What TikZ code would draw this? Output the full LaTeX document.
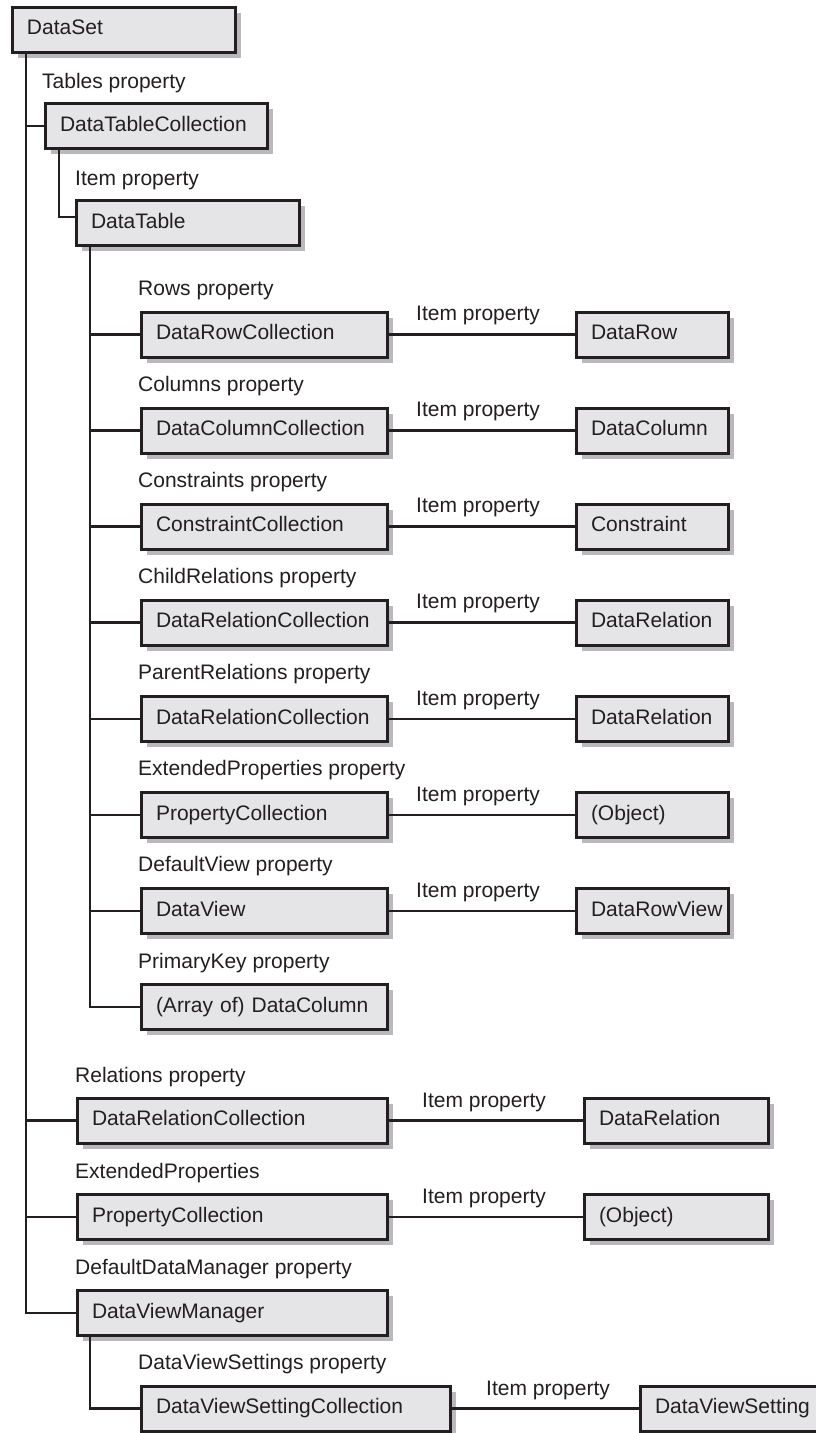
\documentclass[tikz,border=0pt]{standalone}
\usepackage{fontspec}
\setmainfont{Liberation Sans}
\usetikzlibrary{shadows}
\definecolor{ink}{HTML}{231F20}
\definecolor{boxfill}{HTML}{E5E5E7}
\definecolor{shade}{HTML}{B9B9BD}
\begin{document}
\begin{tikzpicture}[x=1pt,y=-1pt,
  box/.style={draw=ink, line width=3pt, fill=boxfill,
    general shadow={fill=shade, draw=none, shadow xshift=5.5pt, shadow yshift=-5.5pt},
    anchor=west, inner xsep=15pt, inner ysep=0pt, minimum height=45pt,
    text height=15pt, text depth=4.5pt, align=left,
    font=\fontsize{21}{25}\selectfont, text=ink},
  lbl/.style={anchor=west, inner sep=0pt, text height=15pt, text depth=4.5pt,
    font=\fontsize{21}{25}\selectfont, text=ink},
  conn/.style={draw=ink, line width=2.6pt}]
\useasboundingbox (0,0) rectangle (816,1433);
\fill[white] (0,0) rectangle (816,1433);

% trunk x coordinates
\coordinate (t1x) at (26,0);
\coordinate (t2x) at (59,0);
\coordinate (t3x) at (90,0);

% top
\node[box, text width=193pt] (ds) at (10.5,29.5) {DataSet};
\node[lbl] (lTables) at (42,83) {Tables property};
\node[box, text width=192pt] (dtc) at (43.5,126) {DataTableCollection};
\node[lbl] (lItem0) at (75,180) {Item property};
\node[box, text width=193pt] (dt) at (74.5,223) {DataTable};

% middle rows
\node[lbl] (lRows) at (138,290.25) {Rows property};
\node[box, text width=216pt] (m0) at (139.5,334.5) {DataRowCollection};
\node[box, text width=122pt] (r0) at (574.5,334.5) {DataRow};
\node[lbl] (i0) at (416,315.5) {Item property};

\node[lbl] (lCols) at (138,386.3) {Columns property};
\node[box, text width=216pt] (m1) at (139.5,430.6) {DataColumnCollection};
\node[box, text width=122pt] (r1) at (574.5,430.6) {DataColumn};
\node[lbl] (i1) at (416,411.6) {Item property};

\node[lbl] (lCons) at (138,482.4) {Constraints property};
\node[box, text width=216pt] (m2) at (139.5,526.6) {ConstraintCollection};
\node[box, text width=122pt] (r2) at (574.5,526.6) {Constraint};
\node[lbl] (i2) at (416,507.6) {Item property};

\node[lbl] (lChild) at (138,578.5) {ChildRelations property};
\node[box, text width=216pt] (m3) at (139.5,622.7) {DataRelationCollection};
\node[box, text width=122pt] (r3) at (574.5,622.7) {DataRelation};
\node[lbl] (i3) at (416,603.7) {Item property};

\node[lbl] (lParent) at (138,674.5) {ParentRelations property};
\node[box, text width=216pt] (m4) at (139.5,718.8) {DataRelationCollection};
\node[box, text width=122pt] (r4) at (574.5,718.8) {DataRelation};
\node[lbl] (i4) at (416,699.8) {Item property};

\node[lbl] (lExt) at (138,770.6) {ExtendedProperties property};
\node[box, text width=216pt] (m5) at (139.5,814.9) {PropertyCollection};
\node[box, text width=122pt] (r5) at (574.5,814.9) {(Object)};
\node[lbl] (i5) at (416,795.9) {Item property};

\node[lbl] (lDV) at (138,866.7) {DefaultView property};
\node[box, text width=216pt] (m6) at (139.5,910.9) {DataView};
\node[box, text width=122pt] (r6) at (574.5,910.9) {DataRowView};
\node[lbl] (i6) at (416,891.9) {Item property};

\node[lbl] (lPK) at (138,962.8) {PrimaryKey property};
\node[box, text width=216pt] (m7) at (139.5,1007) {(Array of) DataColumn};

% bottom section
\node[lbl] (lRel) at (75,1077) {Relations property};
\node[box, text width=280pt] (b0) at (75.5,1120.5) {DataRelationCollection};
\node[box, text width=154pt] (br0) at (582.5,1120.5) {DataRelation};
\node[lbl] (bi0) at (422,1102) {Item property};

\node[lbl] (lExtP) at (75,1173) {ExtendedProperties};
\node[box, text width=280pt] (b1) at (75.5,1217) {PropertyCollection};
\node[box, text width=154pt] (br1) at (582.5,1217) {(Object)};
\node[lbl] (bi1) at (422,1198) {Item property};

\node[lbl] (lDDM) at (75,1269) {DefaultDataManager property};
\node[box, text width=280pt] (dvm) at (75.5,1313) {DataViewManager};

\node[lbl] (lDVS) at (138,1364) {DataViewSettings property};
\node[box, text width=279pt] (dvsc) at (139.5,1408.5) {DataViewSettingCollection};
\node[box, text width=167pt] (dvs) at (638.5,1408.5) {DataViewSetting};
\node[lbl] (bi2) at (486,1390) {Item property};

% connectors
\draw[conn] (ds.south -| t1x) |- (dvm.west);
\draw[conn] (t1x |- dtc.west) -- (dtc.west);
\draw[conn] (t1x |- b0.west) -- (b0.west);
\draw[conn] (t1x |- b1.west) -- (b1.west);

\draw[conn] (dtc.south -| t2x) |- ([yshift=6pt]dt.west);

\draw[conn] (dt.south -| t3x) |- (m7.west);
\foreach \n in {m0,m1,m2,m3,m4,m5,m6}
  \draw[conn] (t3x |- \n.west) -- (\n.west);

\draw[conn] (m0.east) -- (r0.west);
\draw[conn] (m1.east) -- (r1.west);
\draw[conn] (m2.east) -- (r2.west);
\draw[conn] (m3.east) -- (r3.west);
\draw[conn] (m4.east) -- (r4.west);
\draw[conn] (m5.east) -- (r5.west);
\draw[conn] (m6.east) -- (r6.west);

\draw[conn] (b0.east) -- (br0.west);
\draw[conn] (b1.east) -- (br1.west);

\draw[conn] (dvm.south -| t3x) |- (dvsc.west);
\draw[conn] (dvsc.east) -- (dvs.west);
\end{tikzpicture}
\end{document}
